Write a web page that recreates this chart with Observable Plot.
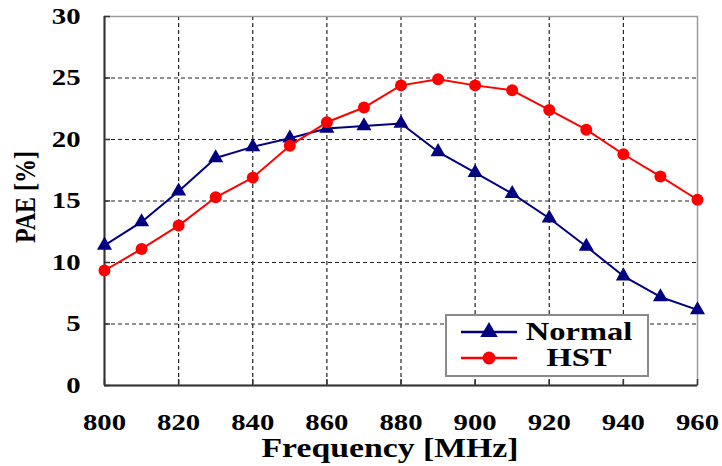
<!DOCTYPE html>
<html><head><meta charset="utf-8">
<script src="https://cdn.jsdelivr.net/npm/d3@7"></script>
<script src="https://cdn.jsdelivr.net/npm/@observablehq/plot@0.6"></script>
<style>
body{margin:0;background:#fff;}
#wrap{position:relative;width:722px;height:466px;}
.legend{position:absolute;left:445px;top:314px;width:200px;height:59px;border:2px solid #8a8a8a;background:#fff;
  font-family:"Liberation Serif","Times New Roman",serif;font-weight:bold;font-size:25px;color:#000;}
.legend .row{position:absolute;left:0;width:200px;height:26px;}
.legend svg{position:absolute;left:14px;top:0;}
.legend span{position:absolute;display:block;left:76px;width:112px;text-align:center;line-height:26px;top:0;transform:scaleX(1.3);}
</style></head><body><div id="wrap"></div>
<script>
const freq   = [800,810,820,830,840,850,860,870,880,890,900,910,920,930,940,950,960];
const normal = [11.4,13.3,15.8,18.5,19.4,20.1,20.9,21.1,21.3,19.0,17.3,15.6,13.6,11.3,8.9,7.2,6.15];
const hst    = [9.35,11.1,13.0,15.3,16.9,19.5,21.4,22.6,24.4,24.9,24.4,24.0,22.4,20.8,18.8,17.0,15.1];
const xTicks = [800,820,840,860,880,900,920,940,960];
const yTicks = [0,5,10,15,20,25,30];
const seriesNames = ["Normal","HST"];
const seriesColors = ["#000080","#ff0000"];
const seriesSymbols = ["triangle","circle"];
const xLabel = "Frequency [MHz]";
const yLabel = "PAE [%]";

const rows = [];
freq.forEach((f,i)=>{
  rows.push({freq:f, value:normal[i], series:seriesNames[0]});
  rows.push({freq:f, value:hst[i], series:seriesNames[1]});
});
const normalRows = rows.filter(d=>d.series===seriesNames[0]);
const hstRows = rows.filter(d=>d.series===seriesNames[1]);

const gridStyle = {stroke:"#222", strokeOpacity:1, strokeDasharray:"4,3", strokeWidth:1.2};

const chart = Plot.plot({
  width:722, height:466,
  marginLeft:104, marginRight:25, marginTop:16, marginBottom:81,
  style:{fontFamily:'"Liberation Serif", "Times New Roman", serif', fontWeight:"bold", color:"#000", background:"#fff", overflow:"visible"},
  x:{domain:[xTicks[0], xTicks[xTicks.length-1]]},
  y:{domain:[yTicks[0], yTicks[yTicks.length-1]]},
  color:{domain:seriesNames, range:seriesColors},
  marks:[
    Plot.gridX(xTicks.slice(1,-1), gridStyle),
    Plot.gridY(yTicks.slice(1,-1), gridStyle),
    Plot.frame({stroke:"#9a9a9a", strokeWidth:1.5}),
    Plot.ruleX([xTicks[0]], {stroke:"#333", strokeWidth:2}),
    Plot.ruleY([yTicks[0]], {stroke:"#333", strokeWidth:2}),
    Plot.axisX(xTicks, {tickSize:-6, tickFormat:()=>"", label:null, stroke:"#333", strokeWidth:1.5}),
    Plot.axisY(yTicks, {tickSize:-6, tickFormat:()=>"", label:null, stroke:"#333", strokeWidth:1.5}),
    Plot.axisX(xTicks, {tickSize:0, tickPadding:28, fontSize:23, label:null}),
    Plot.axisY(yTicks, {tickSize:0, tickPadding:24, fontSize:23, label:null}),
    Plot.text([xLabel], {frameAnchor:"bottom", textAnchor:"middle", lineAnchor:"middle", dx:-11, dy:63, fontSize:27, fontWeight:"bold"}),
    Plot.text([yLabel], {frameAnchor:"left", textAnchor:"middle", lineAnchor:"middle", rotate:-90, dx:-79, dy:-4, fontSize:24, fontWeight:"bold"}),
    Plot.line(normalRows, {x:"freq", y:"value", stroke:"series", strokeWidth:2}),
    Plot.dot(normalRows, {x:"freq", y:"value", fill:"series", symbol:seriesSymbols[0], r:5.6, stroke:null}),
    Plot.line(hstRows, {x:"freq", y:"value", stroke:"series", strokeWidth:2}),
    Plot.dot(hstRows, {x:"freq", y:"value", fill:"series", symbol:seriesSymbols[1], r:6, stroke:null})
  ]
});

// the reference's lettering is stretched horizontally; widen each text about its anchor
d3.select(chart).selectAll("text").each(function(){
  let t = this.getAttribute("transform") || "";
  const xa = this.getAttribute("x");
  if (xa !== null && !isNaN(+xa)) { t = `translate(${+xa},0) ` + t; this.removeAttribute("x"); }
  if (t.includes("rotate")) t = t.replace("rotate", "scale(1.25,1) rotate");
  else t = t + " scale(1.25,1)";
  this.setAttribute("transform", t.trim());
});

const wrap = document.getElementById("wrap");
wrap.appendChild(chart);

// legend overlay
const legend = document.createElement("div");
legend.className = "legend";
seriesNames.forEach((name,i)=>{
  const row = document.createElement("div");
  row.className = "row";
  row.style.top = (i===0 ? 3 : 29) + "px";
  const svg = d3.create("svg").attr("width",56).attr("height",26);
  svg.append("line").attr("x1",0).attr("x2",56).attr("y1",13).attr("y2",13)
    .attr("stroke",seriesColors[i]).attr("stroke-width",2.5);
  const sym = seriesSymbols[i]==="triangle" ? d3.symbolTriangle : d3.symbolCircle;
  svg.append("path").attr("d", d3.symbol(sym, Math.PI*6.5*6.5)())
    .attr("transform","translate(28,13)").attr("fill",seriesColors[i]);
  row.appendChild(svg.node());
  const span = document.createElement("span");
  span.textContent = name;
  row.appendChild(span);
  legend.appendChild(row);
});
wrap.appendChild(legend);
</script></body></html>
